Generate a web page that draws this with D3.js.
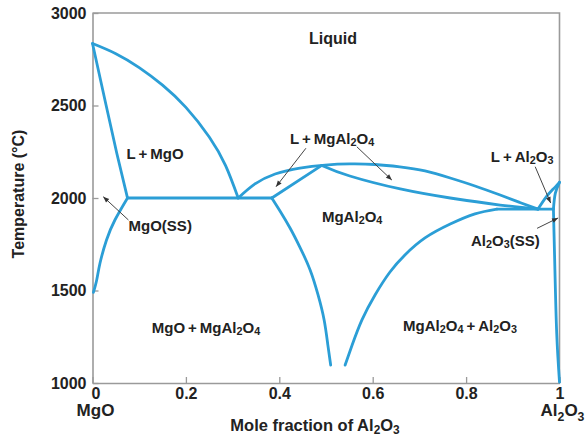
<!DOCTYPE html>
<html>
<head>
<meta charset="utf-8">
<script src="https://cdn.jsdelivr.net/npm/d3@7"></script>
<style>
  body { margin: 0; background: #fff; }
  text { font-family: "Liberation Sans", Arial, Helvetica, sans-serif; font-weight: bold; fill: #222; }
</style>
</head>
<body>
<svg id="chart" width="588" height="440"></svg>
<script>
// MgO–Al2O3 phase diagram. Points are [mole fraction Al2O3, temperature °C].
const mgoLiquidus      = [[0, 2835], [0.05, 2780], [0.10, 2705], [0.15, 2610], [0.20, 2490], [0.25, 2330],
                          [0.285, 2175], [0.312, 2000]];
const mgoSolidus       = [[0, 2835], [0.029, 2503], [0.052, 2242], [0.075, 2000]];
const mgoSolvus        = [[0.075, 2000], [0.048, 1881], [0.030, 1773], [0.016, 1647], [0.009, 1557], [0.002, 1490]];
const leftEutectic     = [[0.075, 2000], [0.384, 2000]];
const spinelLiquidus   = [[0.312, 2000], [0.348, 2076], [0.391, 2130], [0.444, 2162], [0.498, 2178], [0.551, 2184],
                          [0.605, 2181], [0.658, 2168], [0.712, 2146], [0.766, 2108], [0.819, 2065],
                          [0.873, 2016], [0.915, 1976], [0.954, 1940]];
const spinelSolidusL   = [[0.384, 2000], [0.491, 2176]];
const spinelSolidusR   = [[0.491, 2176], [0.551, 2119], [0.659, 2049], [0.766, 2000], [0.873, 1962], [0.954, 1940]];
const spinelSolvusL    = [[0.384, 2000], [0.4015, 1930], [0.423, 1838], [0.444, 1735], [0.466, 1611], [0.483, 1476],
                          [0.496, 1341], [0.504, 1205], [0.510, 1097]];
const spinelSolvusR    = [[0.866, 1940], [0.819, 1914], [0.766, 1859], [0.712, 1784], [0.669, 1692], [0.637, 1600],
                          [0.605, 1476], [0.577, 1341], [0.556, 1205], [0.541, 1097]];
const rightEutectic    = [[0.866, 1940], [0.987, 1940]];
const aluminaLiquidus  = [[0.954, 1940], [0.972, 2007], [0.986, 2047], [1.0, 2085]];
const aluminaSolidus   = [[0.987, 1940], [0.991, 2025], [1.0, 2085]];
const aluminaSolvus    = [[0.987, 1940], [0.990, 1630], [0.994, 1270], [1.0, 1005]];

const boundaries = [mgoLiquidus, mgoSolidus, mgoSolvus, leftEutectic, spinelLiquidus, spinelSolidusL,
                    spinelSolidusR, spinelSolvusL, spinelSolvusR, rightEutectic, aluminaLiquidus,
                    aluminaSolidus, aluminaSolvus];

// Axis ticks
const xTicks = [0, 0.2, 0.4, 0.6, 0.8, 1];
const xTickLabels = ["0", "0.2", "0.4", "0.6", "0.8", "1"];
const yTicks = [1000, 1500, 2000, 2500, 3000];

// Phase-field names ("_n" marks a subscript) and their anchor in data units
const fieldNames  = ["Liquid", "L\u2009+\u2009MgO", "MgO(SS)", "L\u2009+\u2009MgAl_2O_4", "MgAl_2O_4",
                     "L\u2009+\u2009Al_2O_3", "Al_2O_3(SS)", "MgO\u2009+\u2009MgAl_2O_4",
                     "MgAl_2O_4\u2009+\u2009Al_2O_3"];
const fieldAnchor = [[0.515, 2865], [0.134, 2243], [0.145, 1854], [0.513, 2324], [0.556, 1903], [0.92, 2227],
                     [0.884, 1773], [0.243, 1303], [0.787, 1314]];

// Leader arrows: [from, to]
const leaders = [
  [[0.077, 1881], [0.023, 2007]],
  [[0.457, 2269], [0.393, 2061]],
  [[0.566, 2277], [0.641, 2097]],
  [[0.948, 2169], [0.981, 1973]],
  [[0.952, 1836], [0.997, 1892]]
];

const svg = d3.select("#chart");
const x = d3.scaleLinear().domain([0, 1]).range([92.5, 559.5]);
const y = d3.scaleLinear().domain([1000, 3000]).range([383, 13]);

const frameColor = "#9a9a9a";
const lineColor = "#2b9ed6";

// Axes with inward ticks
const xAxis = d3.axisBottom(x).tickValues(xTicks).tickFormat((d, i) => xTickLabels[i])
  .tickSizeInner(-6).tickSizeOuter(0).tickPadding(5);
const yAxis = d3.axisLeft(y).tickValues(yTicks).tickFormat(d3.format("d"))
  .tickSizeInner(-6).tickSizeOuter(0).tickPadding(6);

const gx = svg.append("g").attr("transform", `translate(0,${y(1000)})`).call(xAxis);
const gy = svg.append("g").attr("transform", `translate(${x(0)},0)`).call(yAxis);
[gx, gy].forEach(g => {
  g.select(".domain").attr("stroke", frameColor).attr("stroke-width", 1.6);
  g.selectAll(".tick line").attr("stroke", frameColor).attr("stroke-width", 1.3);
  g.selectAll(".tick text").attr("font-size", 16).attr("font-family", null).attr("fill", "#222");
});
gx.selectAll(".tick text").filter(d => d === 0).attr("dx", 3);

// Top and right frame
svg.append("path")
  .attr("d", `M${x(0)},${y(3000)}H${x(1)}V${y(1000)}`)
  .attr("fill", "none").attr("stroke", frameColor).attr("stroke-width", 1.6);

// Phase boundaries
const line = d3.line().x(d => x(d[0])).y(d => y(d[1])).curve(d3.curveNatural);
svg.append("g").selectAll("path").data(boundaries).join("path")
  .attr("d", line)
  .attr("fill", "none").attr("stroke", lineColor).attr("stroke-width", 2.8)
  .attr("stroke-linejoin", "round").attr("stroke-linecap", "round");

// Text with subscripts
function richText(g, str, size, drop = 0.28) {
  const parts = str.split(/_(\d)/);
  const t = g.append("text").attr("font-size", size);
  parts.forEach((p, i) => {
    if (!p) return;
    if (i % 2 === 1) {
      t.append("tspan").attr("font-size", size * 0.72).attr("dy", size * drop).text(p);
    } else {
      const s = t.append("tspan").text(p);
      if (i > 0) s.attr("dy", -size * drop);
    }
  });
  return t;
}

// Phase-field labels
fieldNames.forEach((name, i) => {
  richText(svg, name, i === 0 ? 16 : 15)
    .attr("x", x(fieldAnchor[i][0])).attr("y", y(fieldAnchor[i][1]))
    .attr("text-anchor", "middle").attr("dominant-baseline", "central");
});

// Leader arrows
svg.append("defs").append("marker")
  .attr("id", "head").attr("viewBox", "0 0 10 10").attr("refX", 10).attr("refY", 5)
  .attr("markerWidth", 7).attr("markerHeight", 6).attr("orient", "auto")
  .append("path").attr("d", "M0,1L10,5L0,9Z").attr("fill", "#333");
svg.append("g").selectAll("line").data(leaders).join("line")
  .attr("x1", d => x(d[0][0])).attr("y1", d => y(d[0][1]))
  .attr("x2", d => x(d[1][0])).attr("y2", d => y(d[1][1]))
  .attr("stroke", "#444").attr("stroke-width", 1)
  .attr("marker-end", "url(#head)");

// Component names under the axis ends
richText(svg, "MgO", 17).attr("x", x(0) + 3).attr("y", 416).attr("text-anchor", "middle");
richText(svg, "Al_2O_3", 17).attr("x", x(1) + 3).attr("y", 416).attr("text-anchor", "middle");

// Axis titles
richText(svg, "Mole fraction of Al_2O_3", 16.5, 0.2).attr("x", 315).attr("y", 431).attr("text-anchor", "middle");
svg.append("text").attr("font-size", 16).attr("text-anchor", "middle")
  .attr("transform", `translate(24,194) rotate(-90)`)
  .text("Temperature (°C)");
</script>
</body>
</html>
